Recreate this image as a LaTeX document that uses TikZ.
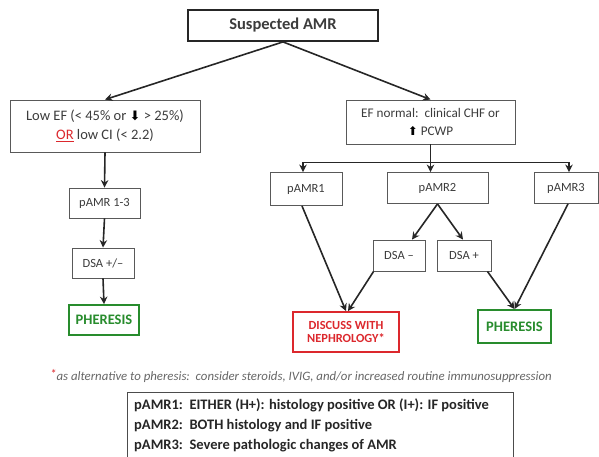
\documentclass[tikz,border=0pt]{standalone}
\usepackage{fontspec}
\setmainfont{Carlito}
\newfontfamily\symfont{DejaVu Sans}
\usetikzlibrary{arrows.meta,calc}
\definecolor{txt}{RGB}{60,60,60}
\definecolor{gbox}{RGB}{40,140,45}
\definecolor{rbox}{RGB}{220,40,45}
\tikzset{
  box/.style={draw=black!65, line width=0.9pt, fill=white, text=txt, inner sep=0pt, align=center, font=\fontsize{12.5}{14}\selectfont},
  topbox/.style={box, draw=black!85, line width=1.8pt, font=\fontsize{16.5}{18}\selectfont\bfseries},
  greenbox/.style={box, draw=gbox, line width=1.8pt, text=gbox, font=\fontsize{14.5}{16}\selectfont\bfseries},
  redbox/.style={box, draw=rbox, line width=1.8pt, text=rbox, font=\fontsize{12.4}{13.5}\selectfont\bfseries},
  arr/.style={-{Stealth[length=7.5pt,width=7.5pt]}, line width=1.6pt, black!85},
}
\begin{document}
\begin{tikzpicture}[x=1pt,y=-1pt]
\useasboundingbox (0,0) rectangle (599,456);
\clip (0,0) rectangle (599,456);
\node[topbox, minimum width=190pt, minimum height=31pt] (top) at (283,25.5) {Suspected AMR};
\node[box, minimum width=190pt, minimum height=52pt, font=\fontsize{14.5}{19}\selectfont] (lowef) at (105,126)
  {Low EF (< 45\% or {\symfont\fontsize{13}{13}\selectfont\color{black}⬇} > 25\%)\\\textcolor{rbox}{\underline{OR}} low CI (< 2.2)};
\node[box, minimum width=169pt, minimum height=44pt, font=\fontsize{13.2}{18}\selectfont] (efnorm) at (430.5,122)
  {EF normal:\ \ clinical CHF or\\{\symfont\fontsize{12}{12}\selectfont\color{black}⬆} PCWP};
\node[box, minimum width=71pt, minimum height=30pt] (p13) at (104.5,203) {pAMR 1-3};
\node[box, minimum width=62pt, minimum height=30pt] (dsa) at (103,263) {DSA +/--};
\node[greenbox, minimum width=70pt, minimum height=30pt] (pher1) at (104,320) {PHERESIS};
\node[box, minimum width=72pt, minimum height=33pt] (p1) at (306,189) {pAMR1};
\node[box, minimum width=101pt, minimum height=31pt] (p2) at (437.5,188) {pAMR2};
\node[box, minimum width=64pt, minimum height=31pt] (p3) at (566,188) {pAMR3};
\node[box, minimum width=52pt, minimum height=31pt] (dsam) at (399,255.5) {DSA --};
\node[box, minimum width=54pt, minimum height=31pt] (dsap) at (464,255.5) {DSA +};
\node[redbox, minimum width=106pt, minimum height=40pt] (disc) at (346,332) {DISCUSS WITH\\NEPHROLOGY*};
\node[greenbox, minimum width=73pt, minimum height=33pt] (pher2) at (514.5,326.5) {PHERESIS};
% arrows
\draw[arr] (top.south) -- (lowef.north);
\draw[arr] (top.south) -- (efnorm.north);
\draw[arr] (lowef.south) -- (p13.north);
\draw[arr] (p13.south) -- (dsa.north);
\draw[arr] (dsa.south) -- (pher1.north);
\draw[line width=1.6pt, black!85] (efnorm.south) -- ++(0,18) coordinate (bus);
\coordinate (b1) at ($(p1.north)+(-3,0)$);
\coordinate (b3) at ($(p3.north)+(3,0)$);
\draw[line width=1.6pt, black!85] (b1 |- bus) -- (b3 |- bus);
\draw[arr] (b1 |- bus) -- (b1);
\draw[arr] (bus) -- (p2.north -| bus);
\draw[arr] (b3 |- bus) -- (b3);
\draw[arr] (p2.south) -- ($(dsam.north)+(13,0)$);
\draw[arr] (p2.south) -- ($(dsap.north)+(-1,0)$);
\draw[arr] ($(p1.south)+(-4,0)$) -- (disc.north);
\draw[arr] ($(dsam.south west)+(1,0)$) -- ($(disc.north)+(2,0)$);
\draw[arr] ($(dsap.south east)+(-4,0)$) -- (pher2.north);
\draw[arr] ($(p3.south)+(2,0)$) -- (pher2.north);
% footnote
\node[text=black!60, font=\fontsize{12.8}{14}\selectfont\itshape, inner sep=0pt] (fn) at (301,376)
  {\textcolor{rbox}{\raisebox{2pt}{*}}as alternative to pheresis:\ \ consider steroids, IVIG, and/or increased routine immunosuppression};
% legend
\node[draw=black!70, line width=0.9pt, minimum width=386pt, minimum height=75pt, anchor=north west, inner sep=0pt] (leg) at (127,392) {};
\node[anchor=north west, text=black!85, align=left, inner sep=0pt, font=\fontsize{14.5}{20}\selectfont\bfseries] (legt) at (134,399)
  {pAMR1:\ \ EITHER (H+): histology positive OR (I+): IF positive\\
   pAMR2:\ \ BOTH histology and IF positive\\
   pAMR3:\ \ Severe pathologic changes of AMR};
\end{tikzpicture}
\end{document}
